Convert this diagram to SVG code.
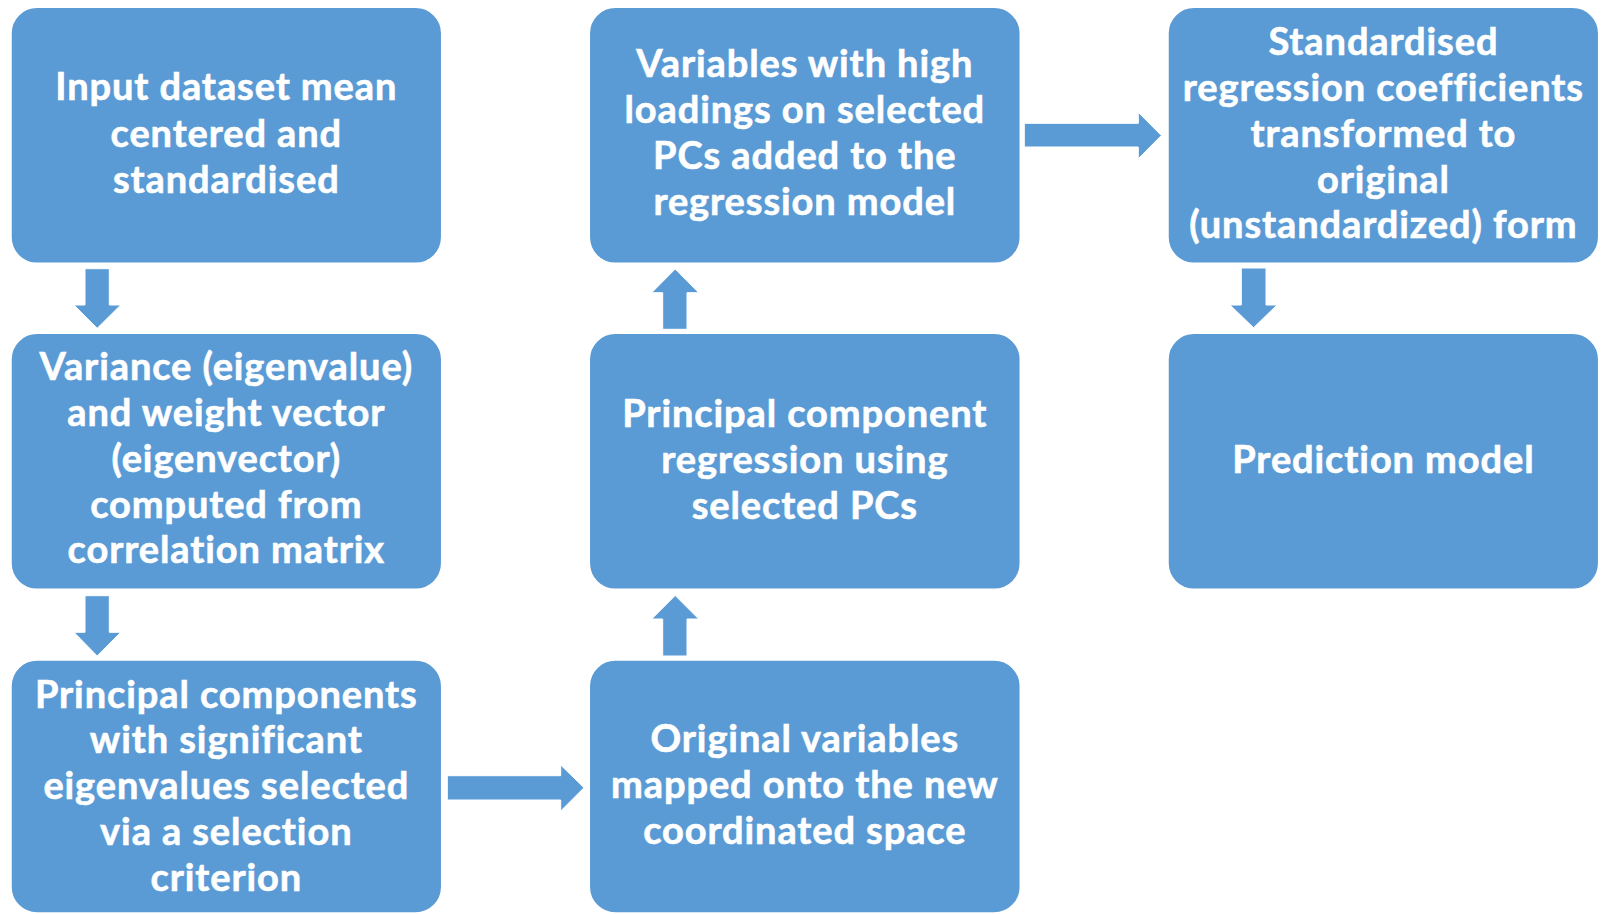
<svg xmlns="http://www.w3.org/2000/svg" width="1602" height="914" viewBox="0 0 1602 914">
<style>
.box{fill:#5B9BD5;stroke:#ffffff;stroke-width:1.5}
.arr{fill:#5B9BD5;stroke:#ffffff;stroke-width:1}
.t{font-family:Lato,"Open Sans","Liberation Sans",sans-serif;font-weight:bold;font-size:38px;letter-spacing:0.9px;fill:#ffffff;stroke:#ffffff;stroke-width:0.6;text-anchor:middle}
</style>
<rect width="1602" height="914" fill="#ffffff"/>
<g id="connectors">
<polygon class="arr" points="85,268.7 109.3,268.7 109.3,305 120.7,305 97.2,328.3 74,305 85,305"/>
<polygon class="arr" points="85,595.7 109.3,595.7 109.3,632.3 120.7,632.3 97.2,656 74,632.3 85,632.3"/>
<polygon class="arr" points="447.3,775.7 560.7,775.7 560.7,765 584,787.7 560.7,811 560.7,800 447.3,800"/>
<polygon class="arr" points="662.7,656 687,656 687,619 698.7,619 675.2,595.5 651.7,619 662.7,619"/>
<polygon class="arr" points="662.7,329.3 687,329.3 687,292.7 698.7,292.7 675.2,269 651.7,292.7 662.7,292.7"/>
<polygon class="arr" points="1024.3,123.3 1138.3,123.3 1138.3,112.3 1161.3,135.5 1138.3,158.7 1138.3,147 1024.3,147"/>
<polygon class="arr" points="1241.3,268 1266,268 1266,305 1277,305 1253.6,327.7 1230,305 1241.3,305"/>
</g>
<g id="n1">
<rect class="box" x="11" y="7.3" width="430.7" height="256" rx="26"/>
<text class="t" x="226.3" y="100">Input dataset mean</text>
<text class="t" x="226.3" y="146.7">centered and</text>
<text class="t" x="226.3" y="192.7">standardised</text>
</g>
<g id="n2">
<rect class="box" x="11" y="333.3" width="430.7" height="256" rx="26"/>
<text class="t" x="226.3" y="380">Variance (eigenvalue)</text>
<text class="t" x="226.3" y="425.7">and weight vector</text>
<text class="t" x="226.3" y="471.7">(eigenvector)</text>
<text class="t" x="226.3" y="517.7">computed from</text>
<text class="t" x="226.3" y="563.3">correlation matrix</text>
</g>
<g id="n3">
<rect class="box" x="11" y="660" width="430.7" height="253" rx="26"/>
<text class="t" x="226.3" y="707.7">Principal components</text>
<text class="t" x="226.3" y="753.3">with significant</text>
<text class="t" x="226.3" y="799">eigenvalues selected</text>
<text class="t" x="226.3" y="845">via a selection</text>
<text class="t" x="226.3" y="890.7">criterion</text>
</g>
<g id="n4">
<rect class="box" x="589.3" y="660" width="431" height="253" rx="26"/>
<text class="t" x="804.8" y="751.7">Original variables</text>
<text class="t" x="804.8" y="798.3">mapped onto the new</text>
<text class="t" x="804.8" y="844.3">coordinated space</text>
</g>
<g id="n5">
<rect class="box" x="589.3" y="333.3" width="431" height="256" rx="26"/>
<text class="t" x="804.8" y="427.3">Principal component</text>
<text class="t" x="804.8" y="472.7">regression using</text>
<text class="t" x="804.8" y="518.7">selected PCs</text>
</g>
<g id="n6">
<rect class="box" x="589.3" y="7.3" width="431" height="256" rx="26"/>
<text class="t" x="804.8" y="77.3">Variables with high</text>
<text class="t" x="804.8" y="123.3">loadings on selected</text>
<text class="t" x="804.8" y="169.3">PCs added to the</text>
<text class="t" x="804.8" y="215">regression model</text>
</g>
<g id="n7">
<rect class="box" x="1168" y="7.3" width="430.7" height="256" rx="26"/>
<text class="t" x="1383.4" y="55">Standardised</text>
<text class="t" x="1383.4" y="100.7">regression coefficients</text>
<text class="t" x="1383.4" y="146.7">transformed to</text>
<text class="t" x="1383.4" y="192.7">original</text>
<text class="t" x="1383.4" y="238.3">(unstandardized) form</text>
</g>
<g id="n8">
<rect class="box" x="1168" y="333.3" width="430.7" height="256" rx="26"/>
<text class="t" x="1383.4" y="473.3">Prediction model</text>
</g>
</svg>
